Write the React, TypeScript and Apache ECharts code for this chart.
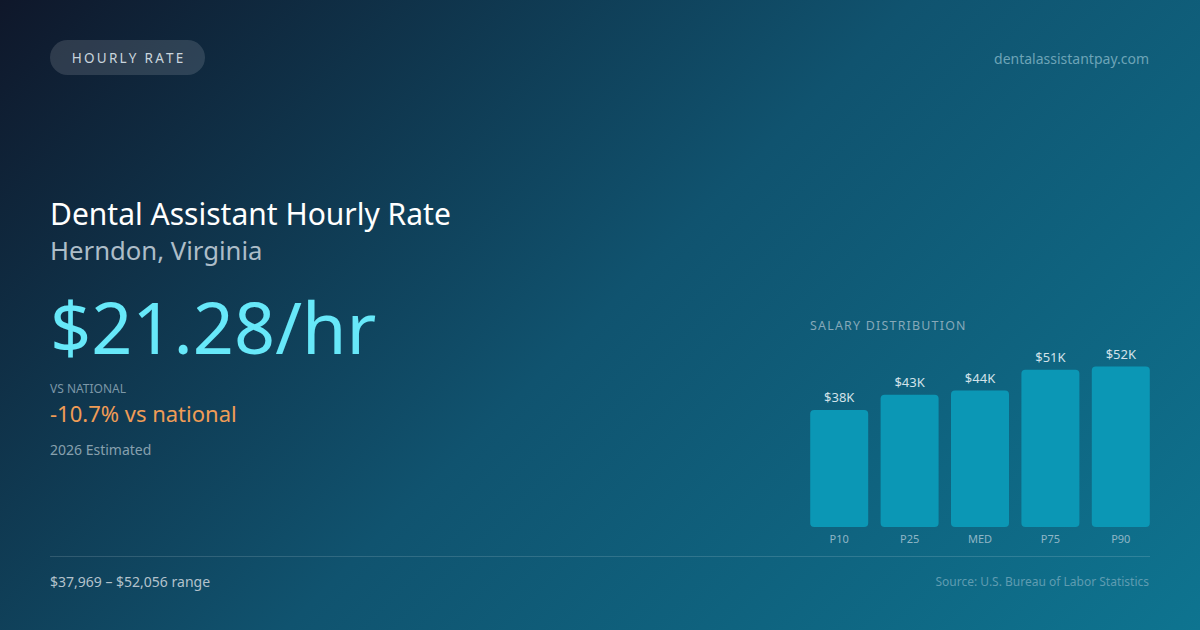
import React, { useEffect, useRef } from "react";
import * as echarts from "echarts";

const categories = ["P10", "P25", "MED", "P75", "P90"];
const salaryValues = [37969, 42900, 44262, 51000, 52056];
const yMax = 60000;

const FONT = "'Noto Sans', 'Open Sans', sans-serif";

function spaced(s: string, sep: string) {
  return s.split("").join(sep);
}

export default function App() {
  const ref = useRef<HTMLDivElement>(null);

  useEffect(() => {
    document.body.style.margin = "0";
    if (!ref.current) return;
    const chart = echarts.init(ref.current, undefined, { renderer: "svg" });

    const txt = (
      text: string,
      x: number,
      y: number,
      size: number,
      fill: string,
      align: string = "left",
      weight: string | number = "normal"
    ) => ({
      type: "text",
      x,
      y,
      style: {
        text,
        x: 0,
        y: 0,
        fill,
        font: `${weight} ${size}px ${FONT}`,
        textAlign: align,
        textVerticalAlign: "middle",
      },
    });

    chart.setOption({
      animation: false,
      graphic: [
        {
          type: "rect",
          z: -10,
          shape: { x: 0, y: 0, width: 1200, height: 630 },
          style: {
            fill: new echarts.graphic.LinearGradient(
              142.5,
              -142.5,
              1057.5,
              772.5,
              [
                { offset: 0, color: "#0f172a" },
                { offset: 0.5, color: "#10536f" },
                { offset: 1, color: "#0e7490" },
              ],
              true
            ),
          },
          silent: true,
        },
        {
          type: "rect",
          shape: { x: 50, y: 40, width: 155, height: 35, r: 17.5 },
          style: { fill: "rgba(255,255,255,0.13)" },
        },
        txt(spaced("HOURLY RATE", "\u2009"), 127.5, 58, 13.5, "#c9d5dd", "center"),
        txt("dentalassistantpay.com", 1149, 58, 14, "#6da4b7", "right"),
        txt("Dental Assistant Hourly Rate", 50, 213, 30, "#ffffff"),
        txt("Herndon, Virginia", 50, 250, 25.7, "#adbdc8"),
        txt("$21.28/hr", 50, 326, 72, "#67e8f9"),
        txt("VS NATIONAL", 50, 388, 12, "#7c97a7"),
        txt("-10.7% vs national", 50, 413, 22, "#f09c56"),
        txt("2026 Estimated", 50, 449, 14, "#87a0ae"),
        txt(spaced("SALARY DISTRIBUTION", "\u200A"), 810, 325, 12.4, "#86a9b9"),
        {
          type: "line",
          shape: { x1: 50, y1: 556.5, x2: 1150, y2: 556.5 },
          style: { stroke: "rgba(255,255,255,0.14)", lineWidth: 1 },
        },
        txt("$37,969 \u2013 $52,056 range", 50, 581, 14, "#b3c2cc"),
        txt("Source: U.S. Bureau of Labor Statistics", 1149, 581, 12, "#5f9cb1", "right"),
      ],
      grid: { left: 804, right: 44, top: 342, bottom: 103 },
      xAxis: {
        type: "category",
        data: categories,
        axisLine: { show: false },
        axisTick: { show: false },
        axisLabel: {
          color: "#8fb6c6",
          fontSize: 11,
          fontFamily: FONT,
          margin: 6,
        },
      },
      yAxis: {
        type: "value",
        min: 0,
        max: yMax,
        show: false,
        splitLine: { show: false },
      },
      series: [
        {
          type: "bar",
          data: salaryValues,
          barWidth: 58,
          itemStyle: { color: "#0b97b5", borderRadius: 4 },
          label: {
            show: true,
            position: "top",
            distance: 6,
            color: "#d3e2e9",
            fontSize: 13,
            fontFamily: FONT,
            formatter: (p: any) => "$" + Math.round(p.value / 1000) + "K",
          },
        },
      ],
    });

    return () => chart.dispose();
  }, []);

  return <div ref={ref} style={{ width: 1200, height: 630 }} />;
}
